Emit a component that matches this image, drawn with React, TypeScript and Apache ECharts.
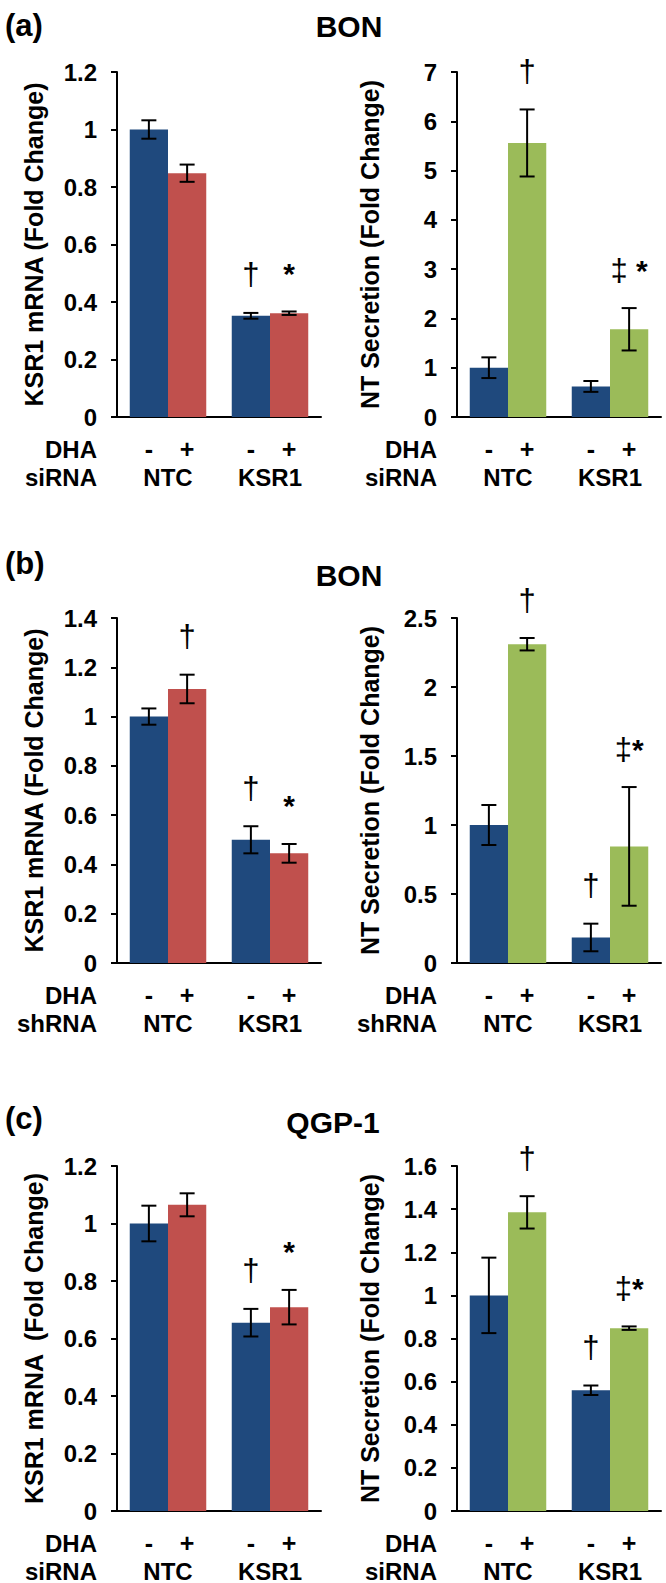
import React, { useEffect, useRef } from "react";
import * as echarts from "echarts";

const FONT = '"Liberation Sans", Arial, Helvetica, sans-serif';
const BLUE = "#1F497D";
const RED = "#C0504D";
const GREEN = "#9BBB59";

const categories = ["NTC", "KSR1"];

// (a) BON, siRNA
const aMrnaCtrl = [1.0, 0.352];
const aMrnaCtrlErr = [0.032, 0.01];
const aMrnaDha = [0.848, 0.361];
const aMrnaDhaErr = [0.03, 0.006];
const aMrnaCtrlMarks = ["", "†"];
const aMrnaDhaMarks = ["", "*"];
const aNtCtrl = [1.0, 0.62];
const aNtCtrlErr = [0.21, 0.11];
const aNtDha = [5.56, 1.78];
const aNtDhaErr = [0.68, 0.43];
const aNtCtrlMarks = ["", ""];
const aNtDhaMarks = ["†", "‡ *"];

// (b) BON, shRNA
const bMrnaCtrl = [1.0, 0.5];
const bMrnaCtrlErr = [0.033, 0.055];
const bMrnaDha = [1.112, 0.445];
const bMrnaDhaErr = [0.058, 0.038];
const bMrnaCtrlMarks = ["", "†"];
const bMrnaDhaMarks = ["†", "*"];
const bNtCtrl = [1.0, 0.185];
const bNtCtrlErr = [0.145, 0.1];
const bNtDha = [2.31, 0.845];
const bNtDhaErr = [0.045, 0.43];
const bNtCtrlMarks = ["", "†"];
const bNtDhaMarks = ["†", "‡*"];

// (c) QGP-1, siRNA
const cMrnaCtrl = [1.0, 0.655];
const cMrnaCtrlErr = [0.062, 0.048];
const cMrnaDha = [1.065, 0.709];
const cMrnaDhaErr = [0.04, 0.06];
const cMrnaCtrlMarks = ["", "†"];
const cMrnaDhaMarks = ["", "*"];
const cNtCtrl = [1.0, 0.56];
const cNtCtrlErr = [0.175, 0.022];
const cNtDha = [1.385, 0.848];
const cNtDhaErr = [0.075, 0.008];
const cNtCtrlMarks = ["", "†"];
const cNtDhaMarks = ["†", "‡*"];

const panelLetters = ["(a)", "(b)", "(c)"];
const cellLines = ["BON", "BON", "QGP-1"];
const rowLabels = ["DHA\nsiRNA", "DHA\nshRNA", "DHA\nsiRNA"];
const mrnaNames = ["KSR1 mRNA (Fold Change)", "KSR1 mRNA (Fold Change)", "KSR1 mRNA  (Fold Change)"];
const ntName = "NT Secretion (Fold Change)";
const mrnaMax = [1.2, 1.4, 1.2];
const mrnaStep = [0.2, 0.2, 0.2];
const ntMax = [7, 2.5, 1.6];
const ntStep = [1, 0.5, 0.2];

// layout
const ROW_TOP = [72, 618, 1166];
const PLOT_H = 345;
const COL_LEFT = [117, 457];
const PLOT_W = 204;
const NAME_CX = [34, 370];
const LETTER_Y = [25, 563, 1118];
const CELL_Y = [26, 575, 1122];
const CELL_X = [349, 349, 333];
const LABEL_SIZE = 24;
const LABEL_MARGIN = 18;
const LABEL_LH = 28;

const panels = [
  { row: 0, col: 0, ctrl: aMrnaCtrl, ctrlErr: aMrnaCtrlErr, dha: aMrnaDha, dhaErr: aMrnaDhaErr, ctrlMarks: aMrnaCtrlMarks, dhaMarks: aMrnaDhaMarks, dhaColor: RED, name: mrnaNames[0], max: mrnaMax[0], step: mrnaStep[0] },
  { row: 0, col: 1, ctrl: aNtCtrl, ctrlErr: aNtCtrlErr, dha: aNtDha, dhaErr: aNtDhaErr, ctrlMarks: aNtCtrlMarks, dhaMarks: aNtDhaMarks, dhaColor: GREEN, name: ntName, max: ntMax[0], step: ntStep[0] },
  { row: 1, col: 0, ctrl: bMrnaCtrl, ctrlErr: bMrnaCtrlErr, dha: bMrnaDha, dhaErr: bMrnaDhaErr, ctrlMarks: bMrnaCtrlMarks, dhaMarks: bMrnaDhaMarks, dhaColor: RED, name: mrnaNames[1], max: mrnaMax[1], step: mrnaStep[1] },
  { row: 1, col: 1, ctrl: bNtCtrl, ctrlErr: bNtCtrlErr, dha: bNtDha, dhaErr: bNtDhaErr, ctrlMarks: bNtCtrlMarks, dhaMarks: bNtDhaMarks, dhaColor: GREEN, name: ntName, max: ntMax[1], step: ntStep[1] },
  { row: 2, col: 0, ctrl: cMrnaCtrl, ctrlErr: cMrnaCtrlErr, dha: cMrnaDha, dhaErr: cMrnaDhaErr, ctrlMarks: cMrnaCtrlMarks, dhaMarks: cMrnaDhaMarks, dhaColor: RED, name: mrnaNames[2], max: mrnaMax[2], step: mrnaStep[2] },
  { row: 2, col: 1, ctrl: cNtCtrl, ctrlErr: cNtCtrlErr, dha: cNtDha, dhaErr: cNtDhaErr, ctrlMarks: cNtCtrlMarks, dhaMarks: cNtDhaMarks, dhaColor: GREEN, name: ntName, max: ntMax[2], step: ntStep[2] },
];

const markRich = {
  d: { fontFamily: FONT, fontSize: 31, fontWeight: "normal", fill: "#000", lineHeight: 34 },
  s: { fontFamily: FONT, fontSize: 30, fontWeight: "bold", fill: "#000", lineHeight: 34 },
};
function richMark(m: string) {
  let out = "";
  for (const ch of m) {
    if (ch === "*") out += "{s|*}";
    else if (ch === " ") out += "{s| }";
    else out += "{d|" + ch + "}";
  }
  return out;
}

const BAR_CAT_GAP = 0.25;

function buildOption() {
  const grid: any[] = [];
  const xAxis: any[] = [];
  const yAxis: any[] = [];
  const series: any[] = [];
  const graphic: any[] = [];

  panels.forEach((p, i) => {
    const top = ROW_TOP[p.row];
    const left = COL_LEFT[p.col];
    grid.push({ left, top, width: PLOT_W, height: PLOT_H, containLabel: false });
    xAxis.push({
      type: "category",
      gridIndex: i,
      data: categories,
      axisLine: { show: true, lineStyle: { color: "#000", width: 2 } },
      axisTick: { show: false },
      axisLabel: {
        margin: LABEL_MARGIN,
        interval: 0,
        formatter: (v: string) => `{pm|-}{pm|+}\n{c|${v}}`,
        rich: {
          pm: { width: 38, align: "center", fontFamily: FONT, fontSize: LABEL_SIZE + 1, fontWeight: "bold", color: "#000", lineHeight: LABEL_LH },
          c: { fontFamily: FONT, fontSize: LABEL_SIZE, fontWeight: "bold", color: "#000", lineHeight: LABEL_LH },
        },
      },
    });
    yAxis.push({
      type: "value",
      gridIndex: i,
      min: 0,
      max: p.max,
      interval: p.step,
      name: p.name,
      nameLocation: "middle",
      nameRotate: 90,
      nameGap: left - NAME_CX[p.col],
      nameTextStyle: { fontFamily: FONT, fontSize: 25, fontWeight: "bold", color: "#000", align: "center", verticalAlign: "middle" },
      axisLine: { show: true, lineStyle: { color: "#000", width: 2 } },
      axisTick: { show: true, inside: false, length: 6, lineStyle: { color: "#000", width: 2 } },
      splitLine: { show: false },
      axisLabel: { margin: 20, fontFamily: FONT, fontSize: 24, fontWeight: "bold", color: "#000" },
    });
    series.push({
      type: "bar",
      xAxisIndex: i,
      yAxisIndex: i,
      data: p.ctrl,
      itemStyle: { color: BLUE },
      barGap: "0%",
      barCategoryGap: BAR_CAT_GAP * 100 + "%",
    });
    series.push({
      type: "bar",
      xAxisIndex: i,
      yAxisIndex: i,
      data: p.dha,
      itemStyle: { color: p.dhaColor },
      barGap: "0%",
      barCategoryGap: BAR_CAT_GAP * 100 + "%",
    });
    const errData: any[] = [];
    const marks: string[] = [];
    categories.forEach((_, c) => {
      errData.push([c, 0, p.ctrl[c], p.ctrlErr[c]]);
      marks.push(p.ctrlMarks[c]);
      errData.push([c, 1, p.dha[c], p.dhaErr[c]]);
      marks.push(p.dhaMarks[c]);
    });
    series.push({
      type: "custom",
      xAxisIndex: i,
      yAxisIndex: i,
      encode: { x: 0, y: 2 },
      clip: false,
      z: 5,
      data: errData,
      renderItem: (params: any, api: any) => {
        const cat = api.value(0);
        const bar = api.value(1);
        const v = api.value(2);
        const e = api.value(3);
        const band = api.size([1, 0])[0];
        const barW = (band * (1 - BAR_CAT_GAP)) / 2;
        const cx = api.coord([cat, v])[0] + (bar === 0 ? -barW / 2 : barW / 2);
        const yTop = api.coord([cat, v + e])[1];
        const yBot = api.coord([cat, v - e])[1];
        const cap = 7.5;
        const st = { stroke: "#000", lineWidth: 2 };
        const children: any[] = [
          { type: "line", shape: { x1: cx, y1: yTop, x2: cx, y2: yBot }, style: st },
          { type: "line", shape: { x1: cx - cap, y1: yTop, x2: cx + cap, y2: yTop }, style: st },
          { type: "line", shape: { x1: cx - cap, y1: yBot, x2: cx + cap, y2: yBot }, style: st },
        ];
        const m = marks[params.dataIndex];
        if (m) {
          children.push({
            type: "text",
            x: cx,
            y: yTop - 38,
            style: { text: richMark(m), rich: markRich, align: "center", verticalAlign: "middle", fill: "#000" },
          });
        }
        return { type: "group", children };
      },
    });
    // row labels (DHA / siRNA)
    graphic.push({
      type: "text",
      x: left - 20,
      y: top + PLOT_H + LABEL_MARGIN,
      style: {
        text: rowLabels[p.row],
        fontFamily: FONT,
        fontSize: LABEL_SIZE,
        fontWeight: "bold",
        fill: "#000",
        lineHeight: LABEL_LH,
        align: "right",
        verticalAlign: "top",
      },
    });
  });

  [0, 1, 2].forEach((r) => {
    graphic.push({
      type: "text",
      x: 5,
      y: LETTER_Y[r],
      style: { text: panelLetters[r], fontFamily: FONT, fontSize: 31, fontWeight: "bold", fill: "#000", align: "left", verticalAlign: "middle" },
    });
    graphic.push({
      type: "text",
      x: CELL_X[r],
      y: CELL_Y[r],
      style: { text: cellLines[r], fontFamily: FONT, fontSize: 30, fontWeight: "bold", fill: "#000", align: "center", verticalAlign: "middle" },
    });
  });

  return {
    animation: false,
    backgroundColor: "#fff",
    grid,
    xAxis,
    yAxis,
    series,
    graphic,
  };
}

export default function App() {
  const ref = useRef<HTMLDivElement>(null);
  useEffect(() => {
    document.body.style.margin = "0";
    const chart = echarts.init(ref.current!, undefined, { renderer: "svg" });
    chart.setOption(buildOption() as any);
    return () => chart.dispose();
  }, []);
  return <div ref={ref} style={{ width: 666, height: 1583 }} />;
}
